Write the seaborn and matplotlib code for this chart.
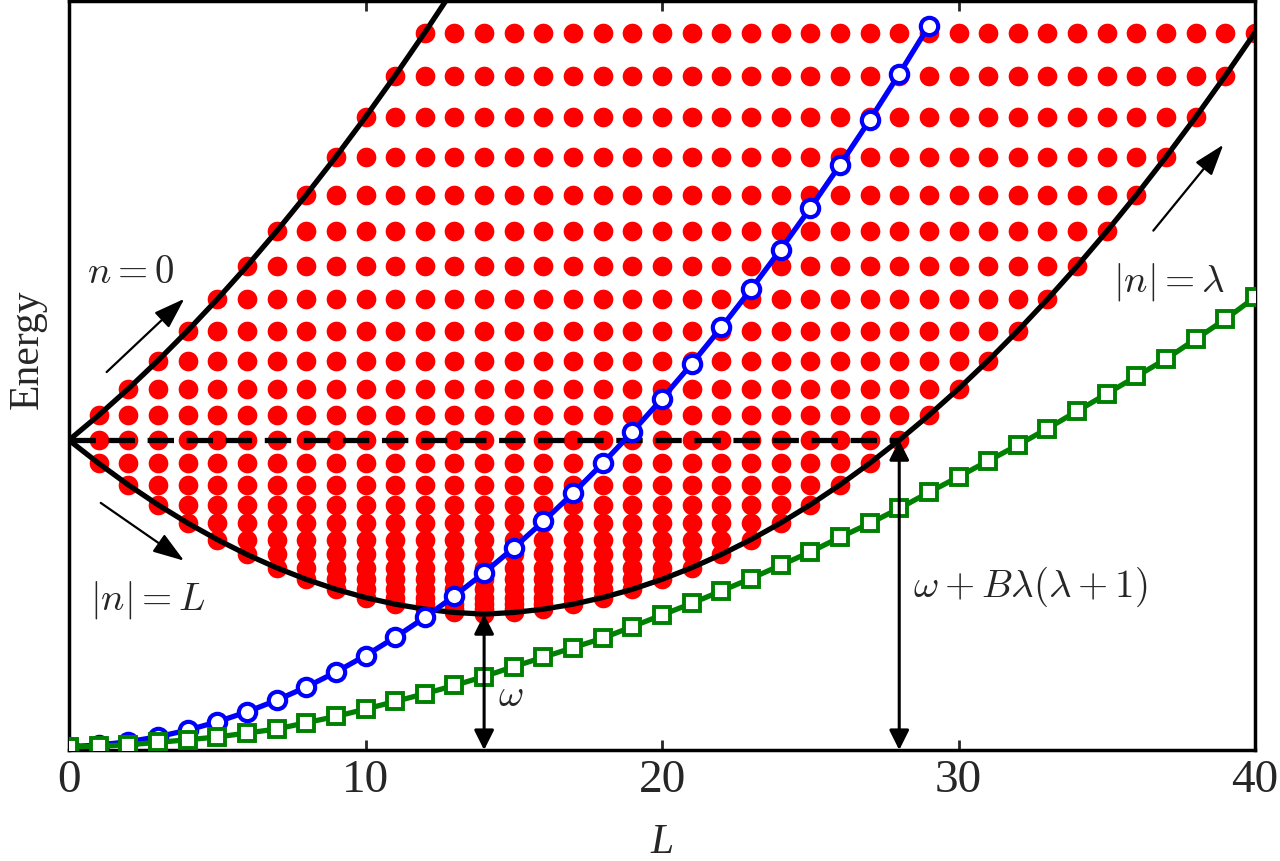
import pandas as pd
import seaborn as sns
import matplotlib.pyplot as plt

sns.set_style('white')
plt.rcParams['font.family'] = ['Liberation Serif', 'DejaVu Serif']
plt.rcParams['mathtext.fontset'] = 'cm'

lam = 14

# energy levels omega + B j(j+1), j = 0..27, in units of B
levels = [160, 162, 166, 172, 180, 190, 202, 216, 232, 250, 270, 292, 316, 342,
          370, 400, 432, 466, 502, 540, 580, 622, 666, 712, 760, 810, 862, 916]

L_all = list(range(41))

# free rotor (blue)
blue_L = list(range(30))
blue_E = [0, 2, 6, 12, 20, 30, 42, 56, 72, 90, 110, 132, 156, 182, 210, 240,
          272, 306, 342, 380, 420, 462, 506, 552, 600, 650, 702, 756, 812, 870]

# renormalised rotor (green)
green_E = [0, 0.6, 2.4, 5.2, 8.4, 11.7, 16.5, 21.3, 29, 36.5, 45.4, 54.6, 64,
           74, 84.7, 96.7, 108, 119.6, 131, 145, 159, 173, 188, 203, 219, 235,
           252.7, 269.5, 287.6, 307, 325.7, 345, 364, 384, 405, 426, 447, 468,
           492, 516, 542.5]

# states: for each L, j runs from |L - lam| to L + lam
rows = []
for L in range(1, 41):
    for j in range(abs(L - lam), min(L + lam, len(levels) - 1) + 1):
        rows.append((L, levels[j]))
dots = pd.DataFrame(rows, columns=['L', 'E'])

upper_L = list(range(len(levels) - lam))
upper_E = [levels[L + lam] for L in upper_L]
lower_E = [levels[abs(L - lam)] for L in L_all]

fig = plt.figure(figsize=(12.8, 8.61), dpi=100)
ax = fig.add_axes([0.0539, 0.1289, 0.9266, 0.8699])

sns.scatterplot(data=dots, x='L', y='E', color='red', s=200, linewidth=0,
                ax=ax, zorder=1, legend=False)

sns.lineplot(x=upper_L, y=upper_E, color='k', ax=ax, sort=False, estimator=None)
sns.lineplot(x=L_all, y=lower_E, color='k', ax=ax, sort=False, estimator=None)
for ln in ax.lines:
    ln.set_linewidth(3.8)
    ln.set_zorder(2)
ax.plot([0, 2 * lam], [levels[lam], levels[lam]], color='k', linewidth=3.8,
        ls=(0, (5, 2.4)), zorder=2)

sns.lineplot(x=blue_L, y=blue_E, color='blue', ax=ax, sort=False, estimator=None)
plt.setp(ax.lines[-1], linewidth=3.8, marker='o', markersize=12.5,
         markerfacecolor='white', markeredgecolor='blue', markeredgewidth=3,
         zorder=3)
sns.lineplot(x=L_all, y=green_E, color='green', ax=ax, sort=False, estimator=None)
plt.setp(ax.lines[-1], linewidth=3.8, marker='s', markersize=11,
         markerfacecolor='white', markeredgecolor='green', markeredgewidth=2.8,
         zorder=4)

ax.set_xlim(0, 40)
ax.set_ylim(-4, 900)

# small arrows
thin = dict(arrowstyle='-|>,head_length=0.8,head_width=0.27', lw=1.6,
            color='k', mutation_scale=24, shrinkA=0, shrinkB=0)
ax.annotate('', xy=(3.89, 540.6), xytext=(1.27, 452.2), arrowprops=thin, zorder=5)
ax.annotate('', xy=(3.88, 224.5), xytext=(1.07, 294.3), arrowprops=thin, zorder=5)
ax.annotate('', xy=(38.93, 726.5), xytext=(36.57, 622.9), arrowprops=thin, zorder=5)

# double arrows
dbl = dict(arrowstyle='<|-|>,head_length=0.6,head_width=0.3', lw=2.2,
           color='k', mutation_scale=20, shrinkA=0, shrinkB=0)
ax.annotate('', xy=(lam, levels[0]), xytext=(lam, -4), arrowprops=dbl, zorder=5)
ax.annotate('', xy=(2 * lam, levels[lam]), xytext=(2 * lam, -4), arrowprops=dbl,
            zorder=5)

fs = 28
ax.text(2.09, 571.7, r'$n=0$', fontsize=fs, ha='center', va='center')
ax.text(2.65, 177.1, r'$|n|=L$', fontsize=fs, ha='center', va='center')
ax.text(37.1, 560.8, r'$|n|=\lambda$', fontsize=fs, ha='center', va='center')
ax.text(14.9, 60.2, r'$\omega$', fontsize=fs, ha='center', va='center')
ax.text(28.47, 192.8, r'$\omega+B\lambda(\lambda+1)$', fontsize=fs,
        ha='left', va='center')

ax.set_xticks([0, 10, 20, 30, 40])
ax.set_yticks([])
ax.tick_params(axis='x', direction='in', top=True, bottom=True, length=7,
               width=2, labelsize=34, pad=7)
for sp in ax.spines.values():
    sp.set_linewidth(2.5)
    sp.set_color('k')

ax.set_xlabel('L', fontstyle='italic', fontsize=30)
ax.xaxis.set_label_coords(0.5, -0.0975)
ax.set_ylabel('Energy', fontsize=30)
ax.yaxis.set_label_coords(-0.019, 0.535)

fig.savefig('out.png', dpi=100)
